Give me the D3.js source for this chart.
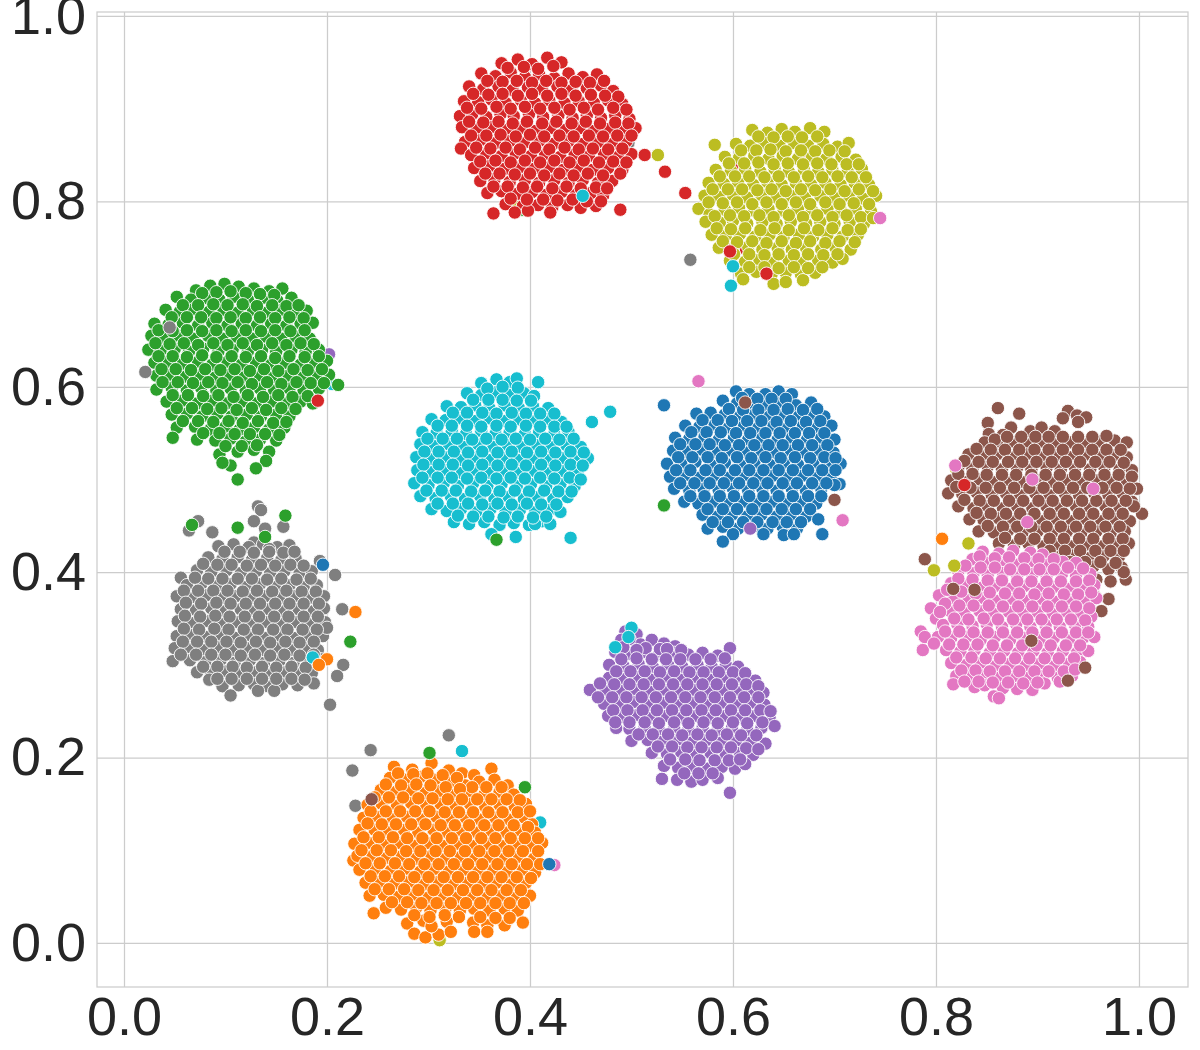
<!DOCTYPE html>
<html>
<head>
<meta charset="utf-8">
<script src="https://cdn.jsdelivr.net/npm/d3@7/dist/d3.min.js"></script>
<style>
  html, body { margin: 0; padding: 0; background: #fff; }
  text { font-family: "Liberation Sans", Arial, sans-serif; }
</style>
</head>
<body>
<svg id="chart" width="1200" height="1050"></svg>
<script>
// values, [x, y] in data units
const tickValues = [0, 0.2, 0.4, 0.6, 0.8, 1.0];

const red = [
[.372,.949],[.388,.953],[.402,.948],[.417,.955],[.431,.950],[.352,.938],[.366,.935],[.381,.939],[.395,.934],[.409,.937],[.424,.933],[.438,.938],[.452,.934],[.466,.937],
[.340,.924],[.354,.921],[.369,.924],[.383,.920],[.398,.923],[.412,.921],[.427,.924],[.441,.920],[.456,.922],[.470,.925],[.482,.919],
[.335,.908],[.349,.907],[.362,.910],[.376,.906],[.391,.909],[.405,.906],[.419,.909],[.434,.906],[.448,.908],[.463,.906],[.477,.909],[.491,.905],
[.331,.892],[.343,.894],[.357,.891],[.371,.894],[.384,.892],[.399,.894],[.413,.891],[.428,.893],[.442,.890],[.456,.893],[.470,.890],[.484,.893],[.498,.889],
[.333,.880],[.348,.878],[.362,.880],[.377,.877],[.391,.879],[.406,.876],[.420,.879],[.435,.877],[.449,.879],[.463,.876],[.477,.878],[.491,.876],[.504,.879],
[.336,.864],[.351,.866],[.366,.863],[.380,.865],[.394,.863],[.409,.865],[.423,.862],[.438,.865],[.452,.862],[.467,.864],[.481,.862],[.495,.865],[.332,.857],
[.342,.850],[.357,.851],[.372,.849],[.386,.852],[.401,.849],[.415,.851],[.430,.848],[.444,.851],[.458,.849],[.473,.851],[.487,.848],[.500,.851],
[.345,.836],[.360,.838],[.375,.835],[.390,.837],[.404,.835],[.419,.837],[.433,.834],[.447,.837],[.462,.834],[.477,.836],[.491,.834],
[.351,.822],[.365,.824],[.380,.821],[.395,.823],[.409,.820],[.424,.823],[.438,.820],[.452,.823],[.467,.820],[.481,.822],[.489,.830],
[.358,.809],[.372,.811],[.387,.808],[.402,.810],[.416,.807],[.431,.810],[.445,.807],[.460,.809],[.472,.806],
[.376,.797],[.393,.795],[.408,.796],[.422,.794],[.437,.796],[.450,.793],[.465,.795],[.398,.790],[.420,.788],[.364,.787],[.385,.788],[.489,.791]
];
const redFill = [
[.378,.944],[.394,.945],[.408,.943],[.423,.946],[.358,.930],[.373,.929],[.387,.930],[.402,.928],[.416,.930],[.431,.928],[.445,.929],[.459,.928],[.473,.930],
[.344,.916],[.359,.915],[.373,.916],[.388,.914],[.402,.916],[.417,.914],[.431,.916],[.445,.914],[.460,.915],[.474,.914],[.487,.913],
[.338,.901],[.352,.900],[.367,.902],[.381,.900],[.395,.902],[.410,.900],[.424,.901],[.439,.899],[.453,.901],[.467,.899],[.482,.901],[.495,.899],
[.340,.886],[.354,.885],[.369,.886],[.383,.884],[.397,.886],[.412,.884],[.426,.886],[.441,.884],[.455,.886],[.469,.884],[.484,.885],[.497,.884],
[.342,.871],[.357,.871],[.371,.872],[.386,.870],[.400,.872],[.414,.870],[.429,.871],[.443,.870],[.458,.871],[.472,.870],[.486,.871],[.500,.871],
[.347,.858],[.361,.857],[.376,.858],[.390,.856],[.405,.858],[.419,.856],[.434,.858],[.448,.856],[.462,.857],[.477,.856],[.491,.857],
[.351,.843],[.366,.844],[.381,.842],[.395,.844],[.410,.842],[.424,.844],[.439,.842],[.453,.844],[.468,.842],[.482,.843],[.495,.842],
[.356,.830],[.370,.830],[.385,.829],[.400,.830],[.414,.828],[.429,.830],[.443,.828],[.457,.830],[.472,.828],
[.364,.816],[.378,.816],[.393,.815],[.407,.816],[.422,.814],[.436,.816],[.450,.814],[.465,.815],[.476,.814],
[.381,.803],[.397,.802],[.413,.802],[.427,.801],[.442,.802],[.456,.800],[.470,.800]
];

const olive = [
[.619,.877],[.634,.874],[.648,.878],[.661,.875],[.676,.879],[.690,.875],[.603,.862],[.617,.860],[.631,.863],[.646,.860],[.660,.863],[.674,.860],[.689,.862],[.703,.859],[.714,.863],
[.592,.848],[.606,.847],[.621,.849],[.635,.846],[.649,.849],[.664,.846],[.678,.848],[.692,.846],[.707,.848],[.721,.845],
[.583,.834],[.598,.833],[.612,.835],[.627,.832],[.641,.835],[.655,.832],[.670,.834],[.684,.832],[.698,.834],[.713,.832],[.727,.835],
[.576,.820],[.591,.819],[.605,.821],[.620,.818],[.634,.821],[.648,.818],[.662,.820],[.677,.818],[.691,.820],[.706,.818],[.720,.820],[.734,.818],
[.572,.806],[.586,.805],[.600,.807],[.614,.804],[.628,.807],[.643,.804],[.657,.806],[.671,.804],[.686,.806],[.700,.804],[.714,.806],[.728,.803],[.741,.806],
[.566,.792],[.577,.786],[.592,.791],[.606,.793],[.621,.790],[.635,.792],[.650,.790],[.664,.792],[.678,.790],[.693,.792],[.707,.789],[.721,.792],[.736,.789],
[.573,.778],[.587,.777],[.600,.779],[.614,.776],[.629,.778],[.643,.776],[.657,.778],[.672,.776],[.686,.778],[.700,.776],[.715,.778],[.729,.776],
[.579,.764],[.593,.763],[.607,.765],[.622,.762],[.636,.764],[.650,.762],[.665,.764],[.679,.762],[.693,.764],[.708,.762],[.723,.764],
[.586,.750],[.600,.749],[.615,.751],[.629,.748],[.644,.750],[.658,.748],[.672,.750],[.687,.748],[.701,.750],[.716,.748],
[.597,.736],[.612,.735],[.626,.737],[.640,.734],[.655,.736],[.669,.734],[.684,.736],[.698,.734],[.708,.738],
[.608,.722],[.623,.724],[.638,.721],[.652,.723],[.667,.721],[.681,.723],[.640,.711],[.652,.713],[.669,.715],[.610,.716]
];
const oliveFill = [
[.625,.870],[.640,.869],[.654,.870],[.668,.869],[.683,.870],[.608,.855],[.623,.855],[.637,.856],[.652,.854],[.667,.855],[.681,.854],[.695,.855],[.710,.854],
[.596,.841],[.611,.841],[.625,.842],[.640,.840],[.654,.841],[.669,.840],[.683,.841],[.697,.840],[.712,.840],[.724,.840],
[.587,.827],[.602,.827],[.616,.827],[.631,.826],[.645,.827],[.660,.826],[.674,.827],[.688,.826],[.703,.827],[.717,.826],[.731,.826],
[.580,.813],[.595,.813],[.609,.813],[.624,.812],[.638,.813],[.652,.811],[.667,.813],[.681,.812],[.696,.813],[.710,.811],[.724,.813],[.738,.811],
[.576,.799],[.590,.798],[.604,.799],[.619,.797],[.633,.799],[.648,.797],[.662,.799],[.676,.797],[.691,.799],[.705,.797],[.719,.798],[.734,.797],
[.582,.784],[.597,.785],[.611,.784],[.626,.785],[.640,.783],[.655,.785],[.669,.783],[.683,.785],[.698,.783],[.712,.785],[.726,.783],[.738,.782],
[.584,.771],[.598,.770],[.612,.771],[.627,.769],[.641,.771],[.655,.769],[.670,.771],[.684,.769],[.698,.771],[.713,.769],[.726,.770],
[.590,.757],[.604,.756],[.619,.757],[.633,.755],[.648,.757],[.662,.755],[.676,.757],[.691,.755],[.705,.757],[.720,.756],
[.601,.743],[.616,.743],[.631,.742],[.645,.743],[.660,.742],[.674,.743],[.689,.742],[.703,.743],
[.616,.729],[.631,.729],[.645,.728],[.660,.729],[.674,.728],[.688,.729]
];

const green = [
[.071,.704],[.085,.709],[.099,.711],[.113,.708],[.128,.706],[.143,.703],[.156,.706],
[.052,.697],[.066,.694],[.080,.696],[.094,.694],[.108,.697],[.122,.694],[.137,.696],[.151,.693],[.165,.696],
[.041,.683],[.055,.681],[.069,.684],[.084,.681],[.098,.683],[.112,.680],[.127,.683],[.141,.680],[.155,.683],[.170,.680],[.180,.682],
[.030,.668],[.044,.667],[.058,.669],[.073,.666],[.087,.669],[.102,.666],[.116,.668],[.131,.666],[.145,.668],[.160,.666],[.174,.668],[.186,.669],
[.027,.655],[.040,.653],[.054,.655],[.068,.652],[.083,.655],[.097,.652],[.111,.654],[.126,.652],[.140,.654],[.155,.652],[.169,.654],[.183,.652],
[.024,.640],[.036,.639],[.050,.641],[.064,.638],[.078,.641],[.093,.638],[.107,.640],[.122,.638],[.136,.640],[.150,.638],[.165,.640],[.179,.638],[.192,.640],
[.030,.626],[.044,.627],[.058,.625],[.073,.627],[.087,.624],[.102,.627],[.116,.624],[.130,.626],[.145,.624],[.159,.626],[.174,.624],[.188,.626],[.200,.628],
[.032,.612],[.046,.613],[.061,.611],[.075,.613],[.090,.610],[.104,.613],[.118,.610],[.133,.612],[.147,.610],[.162,.612],[.176,.610],[.190,.612],[.202,.613],
[.032,.597],[.047,.599],[.062,.596],[.076,.599],[.091,.596],[.105,.598],[.120,.596],[.134,.598],[.148,.596],[.163,.598],[.177,.596],[.192,.598],[.211,.602],
[.042,.584],[.057,.585],[.072,.582],[.087,.585],[.101,.582],[.116,.584],[.130,.582],[.145,.584],[.159,.582],[.174,.584],[.186,.582],
[.047,.570],[.062,.571],[.077,.568],[.092,.571],[.106,.568],[.121,.570],[.135,.568],[.150,.570],[.163,.568],
[.052,.556],[.070,.557],[.085,.554],[.100,.557],[.114,.554],[.128,.556],[.143,.554],[.158,.556],
[.048,.545],[.072,.543],[.090,.542],[.105,.544],[.120,.541],[.134,.543],[.150,.542],[.094,.527],[.112,.530],[.128,.532],[.143,.530],[.105,.515],[.140,.520],[.130,.512],[.097,.518],[.112,.500]
];
const greenFill = [
[.077,.701],[.091,.702],[.105,.703],[.120,.701],[.134,.700],[.148,.699],[.058,.688],[.073,.688],[.088,.689],[.102,.688],[.117,.689],[.131,.687],[.146,.688],[.160,.687],[.172,.688],
[.047,.675],[.062,.675],[.076,.675],[.091,.674],[.105,.675],[.120,.674],[.134,.675],[.149,.674],[.163,.675],[.177,.674],
[.034,.661],[.048,.660],[.062,.661],[.077,.660],[.091,.661],[.106,.660],[.120,.661],[.135,.660],[.149,.661],[.164,.660],[.178,.661],
[.031,.647],[.045,.646],[.059,.647],[.073,.645],[.088,.647],[.102,.645],[.117,.647],[.131,.645],[.146,.647],[.160,.645],[.174,.647],[.187,.646],
[.034,.633],[.048,.633],[.062,.632],[.077,.634],[.091,.632],[.106,.633],[.120,.632],[.135,.633],[.149,.631],[.163,.633],[.178,.632],[.192,.633],
[.037,.619],[.051,.619],[.066,.618],[.080,.619],[.095,.618],[.109,.619],[.124,.617],[.138,.619],[.152,.617],[.167,.619],[.181,.618],[.195,.619],
[.038,.605],[.053,.605],[.068,.604],[.083,.605],[.097,.604],[.112,.605],[.126,.603],[.141,.605],[.155,.603],[.170,.605],[.184,.604],[.197,.604],
[.048,.591],[.063,.591],[.078,.590],[.093,.591],[.108,.589],[.122,.591],[.137,.589],[.152,.591],[.166,.589],[.181,.590],
[.052,.577],[.067,.577],[.082,.576],[.096,.577],[.111,.575],[.126,.577],[.140,.575],[.155,.577],[.169,.576],
[.058,.563],[.073,.563],[.088,.562],[.103,.563],[.117,.561],[.132,.563],[.147,.561],[.160,.562],
[.078,.550],[.094,.550],[.109,.549],[.124,.549],[.139,.549],[.153,.548],[.100,.536],[.116,.536],[.131,.537]
];

const cyan = [
[.352,.604],[.367,.608],[.380,.605],[.387,.609],[.338,.593],[.352,.591],[.366,.594],[.380,.591],[.394,.593],[.404,.590],[.408,.605],
[.318,.579],[.332,.578],[.346,.580],[.360,.577],[.375,.580],[.389,.577],[.403,.579],[.418,.577],
[.303,.565],[.317,.564],[.331,.566],[.346,.563],[.360,.566],[.375,.563],[.389,.565],[.403,.563],[.418,.565],[.431,.562],
[.294,.551],[.308,.550],[.323,.552],[.337,.549],[.352,.552],[.366,.549],[.380,.551],[.395,.549],[.409,.551],[.424,.549],[.438,.551],[.461,.562],
[.292,.538],[.306,.536],[.320,.538],[.335,.535],[.349,.538],[.364,.535],[.378,.537],[.392,.535],[.407,.537],[.421,.535],[.436,.537],[.450,.535],
[.288,.524],[.302,.522],[.316,.524],[.331,.521],[.345,.524],[.359,.521],[.374,.523],[.388,.521],[.403,.523],[.417,.521],[.432,.523],[.446,.521],[.457,.523],
[.289,.510],[.304,.508],[.318,.510],[.333,.507],[.347,.510],[.361,.507],[.376,.509],[.390,.507],[.405,.509],[.419,.507],[.433,.509],[.447,.507],
[.286,.496],[.300,.494],[.315,.496],[.329,.493],[.344,.496],[.358,.493],[.372,.495],[.387,.493],[.401,.495],[.416,.493],[.430,.495],[.444,.493],
[.292,.482],[.307,.480],[.322,.482],[.336,.479],[.351,.482],[.365,.479],[.379,.481],[.394,.479],[.408,.481],[.423,.479],[.437,.481],
[.303,.468],[.318,.466],[.332,.468],[.347,.465],[.361,.468],[.376,.465],[.390,.467],[.405,.465],[.419,.467],[.430,.465],
[.325,.454],[.340,.452],[.355,.454],[.370,.451],[.384,.453],[.399,.451],[.412,.455],[.362,.441],[.386,.438],[.405,.452],[.420,.452]
];
const cyanFill = [
[.358,.598],[.373,.600],[.388,.599],[.344,.586],[.359,.586],[.373,.586],[.387,.585],[.401,.585],[.324,.572],[.338,.572],[.353,.572],[.367,.571],[.382,.572],[.396,.571],[.410,.571],[.424,.571],
[.309,.558],[.323,.558],[.338,.558],[.352,.557],[.367,.558],[.381,.557],[.396,.558],[.410,.557],[.424,.557],[.436,.557],
[.299,.544],[.314,.544],[.328,.544],[.343,.543],[.357,.544],[.372,.543],[.386,.544],[.400,.543],[.415,.544],[.429,.543],[.443,.544],
[.296,.530],[.310,.530],[.325,.530],[.339,.529],[.353,.530],[.368,.529],[.382,.530],[.397,.529],[.411,.530],[.425,.529],[.440,.530],[.453,.529],
[.295,.516],[.310,.516],[.324,.516],[.339,.515],[.353,.516],[.368,.515],[.382,.516],[.396,.515],[.411,.516],[.425,.515],[.440,.516],[.452,.515],
[.294,.502],[.309,.502],[.323,.502],[.338,.501],[.352,.502],[.367,.501],[.381,.502],[.395,.501],[.410,.502],[.424,.501],[.439,.502],[.450,.500],
[.298,.488],[.313,.488],[.327,.488],[.342,.487],[.356,.488],[.370,.487],[.385,.488],[.399,.487],[.414,.488],[.428,.487],[.441,.487],
[.309,.474],[.324,.474],[.339,.474],[.353,.473],[.368,.474],[.382,.473],[.397,.474],[.411,.473],[.426,.473],
[.329,.461],[.344,.460],[.359,.460],[.374,.459],[.388,.460],[.403,.459],[.416,.460]
];

const blue = [
[.603,.595],[.616,.592],[.632,.592],[.645,.595],[.658,.592],[.590,.585],[.604,.582],[.619,.581],[.633,.580],[.648,.583],[.662,.580],[.677,.583],
[.564,.571],[.578,.572],[.592,.570],[.607,.568],[.621,.570],[.636,.568],[.650,.570],[.665,.568],[.679,.570],[.690,.568],
[.553,.558],[.567,.557],[.582,.559],[.596,.556],[.611,.558],[.625,.556],[.640,.558],[.654,.556],[.669,.558],[.683,.556],[.697,.558],
[.543,.545],[.557,.544],[.572,.546],[.586,.543],[.601,.545],[.615,.543],[.629,.545],[.644,.543],[.658,.545],[.673,.543],[.687,.545],[.700,.543],
[.541,.531],[.556,.530],[.570,.532],[.585,.529],[.599,.531],[.613,.529],[.628,.531],[.642,.529],[.657,.531],[.671,.529],[.685,.531],[.699,.529],
[.535,.517],[.549,.517],[.563,.519],[.578,.516],[.592,.518],[.607,.516],[.621,.518],[.636,.516],[.650,.518],[.664,.516],[.679,.518],[.693,.516],[.706,.517],
[.538,.503],[.552,.504],[.567,.502],[.581,.504],[.596,.502],[.610,.504],[.624,.502],[.639,.504],[.653,.502],[.668,.504],[.682,.502],[.697,.504],[.705,.495],
[.542,.490],[.557,.488],[.571,.490],[.586,.488],[.600,.490],[.615,.488],[.629,.490],[.643,.488],[.658,.490],[.672,.488],[.687,.490],[.700,.494],
[.552,.476],[.566,.474],[.581,.476],[.595,.474],[.610,.476],[.624,.474],[.639,.476],[.653,.474],[.667,.476],[.682,.474],
[.570,.462],[.585,.460],[.599,.462],[.614,.460],[.628,.462],[.643,.460],[.657,.462],[.672,.460],[.684,.457],
[.575,.447],[.590,.449],[.605,.447],[.620,.449],[.634,.447],[.649,.449],[.663,.447],[.600,.441],[.590,.433],[.630,.441],[.650,.440],[.660,.441],[.688,.441],[.532,.580]
];
const blueFill = [
[.609,.588],[.624,.587],[.638,.587],[.652,.587],[.596,.576],[.610,.575],[.625,.575],[.640,.575],[.654,.576],[.669,.575],[.683,.576],
[.570,.564],[.585,.564],[.599,.563],[.614,.563],[.628,.563],[.643,.562],[.657,.563],[.672,.562],[.686,.563],
[.559,.551],[.574,.551],[.588,.551],[.603,.550],[.617,.550],[.632,.550],[.646,.550],[.661,.550],[.675,.550],[.690,.550],
[.548,.538],[.563,.538],[.577,.538],[.592,.537],[.606,.537],[.621,.537],[.635,.537],[.649,.537],[.664,.537],[.678,.537],[.693,.537],
[.546,.524],[.560,.524],[.575,.524],[.589,.523],[.604,.524],[.618,.523],[.632,.524],[.647,.523],[.661,.524],[.676,.523],[.690,.524],[.701,.523],
[.544,.510],[.558,.510],[.573,.510],[.587,.510],[.602,.510],[.616,.510],[.630,.510],[.645,.510],[.659,.510],[.674,.510],[.688,.510],[.701,.510],
[.548,.496],[.562,.496],[.577,.496],[.591,.496],[.606,.496],[.620,.496],[.634,.496],[.649,.496],[.663,.496],[.678,.496],[.692,.496],
[.558,.482],[.572,.482],[.587,.482],[.601,.482],[.616,.482],[.630,.482],[.645,.482],[.659,.482],[.674,.482],[.687,.482],
[.575,.468],[.590,.468],[.604,.468],[.619,.468],[.633,.468],[.648,.468],[.662,.468],[.676,.468],
[.580,.454],[.595,.454],[.610,.454],[.624,.454],[.639,.454],[.653,.454],[.667,.454]
];

const brown = [
[.861,.577],[.882,.571],[.930,.574],[.939,.569],[.948,.567],[.851,.561],[.874,.556],[.925,.566],[.940,.562],[.893,.552],[.904,.556],[.917,.552],[.852,.549],[.866,.548],
[.848,.540],[.861,.537],[.875,.541],[.890,.538],[.904,.541],[.918,.538],[.933,.540],[.947,.538],[.961,.541],[.976,.542],[.988,.540],
[.832,.527],[.846,.525],[.860,.527],[.875,.524],[.889,.527],[.903,.524],[.918,.526],[.932,.524],[.946,.526],[.961,.524],[.975,.526],[.988,.524],
[.822,.513],[.836,.512],[.851,.514],[.865,.511],[.880,.513],[.894,.511],[.909,.513],[.923,.511],[.937,.513],[.952,.511],[.966,.513],[.981,.511],[.993,.510],
[.815,.499],[.829,.497],[.843,.500],[.858,.497],[.872,.499],[.887,.497],[.901,.499],[.916,.497],[.930,.499],[.944,.497],[.959,.499],[.973,.497],[.988,.499],[.998,.490],
[.812,.485],[.826,.484],[.840,.486],[.855,.483],[.869,.485],[.883,.483],[.898,.485],[.912,.483],[.927,.485],[.941,.483],[.956,.485],[.970,.483],[.984,.485],[.993,.476],[1.003,.463],
[.822,.471],[.837,.469],[.851,.471],[.866,.469],[.880,.471],[.895,.469],[.909,.471],[.923,.469],[.938,.471],[.952,.469],[.967,.471],[.981,.469],[.995,.471],
[.833,.457],[.847,.456],[.862,.458],[.876,.455],[.891,.457],[.905,.455],[.919,.457],[.934,.455],[.948,.457],[.963,.455],[.977,.457],[.991,.455],
[.842,.444],[.857,.443],[.871,.445],[.885,.442],[.900,.444],[.914,.442],[.929,.444],[.943,.442],[.958,.444],[.972,.442],[.986,.444],
[.862,.431],[.877,.429],[.891,.431],[.906,.428],[.920,.430],[.935,.428],[.949,.430],[.964,.428],[.978,.430],[.990,.431],
[.905,.417],[.920,.416],[.935,.418],[.950,.415],[.965,.417],[.980,.416],[.924,.405],[.940,.404],[.955,.406],[.970,.403],[.983,.405],
[.958,.392],[.972,.390],[.987,.392],[.956,.375],[.970,.371],[.951,.361],[.963,.358],[.941,.345],[.985,.400]
];
const brownFill = [
[.858,.543],[.870,.546],[.884,.546],[.898,.546],[.911,.546],[.925,.546],[.940,.546],[.954,.546],[.968,.547],
[.840,.533],[.854,.532],[.868,.532],[.882,.532],[.897,.532],[.911,.532],[.925,.532],[.940,.532],[.954,.532],[.968,.532],[.982,.532],
[.828,.520],[.842,.519],[.856,.519],[.871,.519],[.885,.519],[.899,.519],[.914,.519],[.928,.519],[.942,.519],[.957,.519],[.971,.519],[.985,.518],
[.822,.506],[.836,.506],[.850,.505],[.865,.505],[.879,.505],[.894,.505],[.908,.505],[.922,.505],[.937,.505],[.951,.505],[.966,.505],[.980,.505],[.993,.503],
[.820,.492],[.834,.491],[.849,.491],[.863,.491],[.877,.491],[.892,.491],[.906,.491],[.921,.491],[.935,.491],[.949,.491],[.964,.491],[.978,.491],[.991,.490],
[.828,.478],[.843,.477],[.857,.477],[.872,.477],[.886,.477],[.901,.477],[.915,.477],[.929,.477],[.944,.477],[.958,.477],[.973,.477],[.987,.477],
[.840,.464],[.854,.463],[.869,.463],[.883,.463],[.897,.463],[.912,.463],[.926,.463],[.941,.463],[.955,.463],[.970,.463],[.984,.463],
[.851,.450],[.866,.449],[.880,.449],[.894,.449],[.909,.449],[.923,.449],[.938,.449],[.952,.449],[.967,.449],[.981,.449],
[.868,.437],[.883,.436],[.897,.436],[.912,.436],[.926,.436],[.941,.436],[.955,.436],[.970,.436],[.984,.436],
[.912,.423],[.927,.423],[.942,.423],[.957,.423],[.972,.423],[.985,.423],[.932,.411],[.947,.411],[.962,.411],[.977,.410]
];

const pink = [
[.846,.422],[.862,.420],[.876,.423],[.893,.421],[.905,.419],[.836,.414],[.851,.410],[.866,.411],[.880,.408],[.895,.410],[.910,.408],[.925,.411],[.938,.410],
[.822,.401],[.837,.399],[.851,.397],[.866,.399],[.880,.396],[.895,.398],[.909,.396],[.924,.398],[.938,.396],[.952,.398],
[.815,.388],[.829,.385],[.844,.383],[.858,.385],[.873,.382],[.887,.385],[.902,.382],[.916,.384],[.931,.382],[.945,.384],[.956,.386],
[.803,.375],[.818,.372],[.832,.370],[.847,.372],[.861,.369],[.876,.371],[.890,.369],[.905,.371],[.919,.368],[.933,.371],[.948,.368],[.958,.372],
[.795,.361],[.800,.350],[.814,.358],[.828,.356],[.843,.358],[.857,.355],[.872,.357],[.886,.355],[.900,.357],[.915,.355],[.929,.357],[.943,.355],[.953,.352],
[.807,.343],[.821,.344],[.836,.342],[.850,.344],[.865,.341],[.879,.344],[.893,.341],[.908,.343],[.922,.341],[.937,.343],[.950,.341],
[.785,.336],[.789,.330],[.802,.330],[.815,.329],[.830,.330],[.844,.327],[.858,.330],[.873,.327],[.887,.329],[.902,.327],[.916,.329],[.931,.327],[.945,.329],[.956,.330],
[.787,.316],[.810,.316],[.824,.314],[.838,.316],[.853,.313],[.867,.315],[.881,.313],[.896,.315],[.910,.313],[.925,.315],[.939,.313],[.950,.315],
[.815,.302],[.830,.300],[.844,.302],[.859,.299],[.873,.301],[.888,.299],[.902,.301],[.917,.299],[.931,.301],[.942,.303],
[.820,.288],[.833,.287],[.848,.289],[.862,.286],[.877,.288],[.891,.286],[.905,.288],[.920,.286],[.934,.288],
[.817,.279],[.838,.276],[.848,.278],[.866,.275],[.880,.274],[.895,.273],[.907,.280],[.922,.282],[.857,.266],[.862,.264]
];
const pinkFill = [
[.843,.417],[.858,.415],[.872,.416],[.887,.415],[.901,.414],[.916,.414],[.930,.405],[.829,.407],[.844,.405],[.858,.405],[.873,.403],[.887,.403],[.902,.403],[.916,.403],[.945,.404],
[.822,.393],[.836,.392],[.851,.391],[.865,.391],[.880,.390],[.894,.390],[.909,.390],[.923,.390],[.938,.390],[.951,.391],
[.811,.381],[.825,.379],[.839,.377],[.853,.378],[.868,.377],[.882,.377],[.897,.376],[.911,.377],[.926,.376],[.940,.376],[.953,.378],
[.809,.366],[.823,.364],[.837,.364],[.852,.364],[.866,.363],[.881,.363],[.895,.363],[.910,.363],[.924,.363],[.938,.363],[.951,.361],
[.804,.357],[.818,.350],[.832,.349],[.847,.350],[.861,.349],[.876,.349],[.890,.349],[.904,.349],[.919,.349],[.933,.349],[.947,.348],
[.809,.336],[.823,.336],[.837,.335],[.851,.335],[.866,.335],[.880,.335],[.895,.335],[.909,.335],[.924,.335],[.938,.335],[.950,.335],
[.798,.323],[.813,.322],[.827,.322],[.841,.322],[.856,.321],[.870,.321],[.885,.321],[.899,.321],[.913,.321],[.928,.321],[.942,.321],
[.820,.308],[.835,.308],[.849,.307],[.863,.307],[.878,.307],[.892,.307],[.907,.307],[.921,.307],[.936,.307],
[.825,.294],[.839,.294],[.853,.293],[.868,.293],[.882,.293],[.897,.293],[.911,.293],[.926,.293],[.937,.295],
[.828,.282],[.842,.282],[.856,.281],[.871,.281],[.886,.280],[.900,.281]
];

const grey = [
[.128,.432],[.093,.428],[.108,.430],[.123,.427],[.137,.430],[.151,.427],[.163,.429],
[.083,.416],[.097,.414],[.112,.416],[.126,.413],[.141,.415],[.155,.413],[.169,.415],
[.072,.402],[.086,.400],[.101,.402],[.115,.399],[.130,.401],[.144,.399],[.158,.401],[.173,.399],[.185,.401],
[.056,.394],[.062,.386],[.076,.387],[.091,.385],[.105,.387],[.120,.384],[.134,.387],[.149,.384],[.163,.386],[.177,.384],[.190,.386],
[.052,.374],[.067,.373],[.081,.375],[.096,.372],[.110,.374],[.125,.372],[.139,.374],[.153,.372],[.168,.374],[.182,.372],[.197,.374],
[.056,.360],[.071,.359],[.086,.361],[.100,.358],[.115,.360],[.129,.358],[.143,.360],[.158,.358],[.172,.360],[.187,.358],[.197,.361],
[.053,.347],[.068,.345],[.083,.347],[.097,.344],[.112,.346],[.126,.344],[.141,.346],[.155,.344],[.170,.346],[.184,.344],[.198,.346],
[.052,.331],[.066,.332],[.081,.330],[.095,.332],[.110,.329],[.124,.332],[.139,.329],[.153,.331],[.167,.329],[.182,.331],[.196,.331],
[.050,.318],[.063,.319],[.078,.316],[.092,.319],[.107,.316],[.121,.318],[.135,.316],[.150,.318],[.164,.316],[.179,.318],[.191,.316],
[.048,.304],[.065,.305],[.080,.303],[.095,.305],[.109,.302],[.124,.305],[.138,.302],[.153,.304],[.167,.302],[.182,.304],[.194,.306],
[.072,.292],[.086,.291],[.101,.293],[.115,.290],[.130,.292],[.144,.290],[.159,.292],[.173,.290],[.185,.291],
[.084,.284],[.097,.277],[.113,.278],[.128,.279],[.142,.277],[.156,.279],[.171,.278],[.105,.267],[.132,.272],[.148,.272],[.187,.280],
[.203,.257],[.216,.300],[.210,.288],[.208,.397],[.193,.412],[.215,.360],[.200,.340],[.132,.471],[.135,.467],[.064,.445],[.073,.455],[.087,.443],[.128,.455],[.139,.447],[.157,.449],[.143,.425]
];
const greyFill = [
[.099,.422],[.114,.422],[.128,.421],[.143,.422],[.157,.421],[.168,.422],[.078,.409],[.092,.408],[.106,.408],[.121,.407],[.135,.408],[.149,.407],[.164,.408],[.177,.407],
[.070,.394],[.083,.393],[.097,.393],[.112,.393],[.126,.393],[.141,.392],[.155,.393],[.170,.392],[.184,.393],
[.059,.380],[.073,.380],[.088,.380],[.102,.380],[.117,.379],[.131,.380],[.146,.379],[.160,.380],[.175,.379],[.189,.379],
[.061,.367],[.076,.366],[.091,.367],[.105,.366],[.120,.366],[.134,.366],[.149,.366],[.163,.366],[.177,.366],[.192,.366],
[.060,.353],[.075,.352],[.090,.353],[.104,.352],[.119,.352],[.133,.352],[.148,.352],[.162,.352],[.177,.352],[.191,.352],
[.059,.339],[.074,.338],[.089,.339],[.103,.338],[.118,.338],[.132,.338],[.147,.338],[.161,.338],[.176,.338],[.190,.338],
[.058,.325],[.072,.325],[.086,.325],[.101,.325],[.115,.324],[.130,.325],[.144,.324],[.159,.325],[.173,.324],[.187,.325],
[.056,.311],[.071,.311],[.086,.311],[.100,.311],[.115,.310],[.129,.311],[.144,.310],[.158,.311],[.173,.310],[.187,.311],
[.078,.298],[.092,.298],[.107,.298],[.121,.297],[.136,.298],[.150,.297],[.165,.298],[.179,.297],
[.092,.285],[.106,.285],[.121,.285],[.136,.285],[.150,.285],[.165,.285],[.178,.284]
];

const purple = [
[.494,.336],[.505,.333],[.490,.327],[.509,.322],[.520,.327],[.532,.323],[.543,.320],[.484,.314],[.498,.312],[.513,.314],[.527,.311],[.542,.313],[.556,.311],[.570,.313],[.597,.318],[.585,.310],
[.478,.300],[.492,.299],[.507,.301],[.521,.298],[.536,.300],[.550,.298],[.565,.300],[.579,.298],[.593,.300],[.605,.298],
[.478,.286],[.490,.285],[.505,.287],[.519,.284],[.534,.286],[.548,.284],[.563,.286],[.577,.284],[.592,.286],[.606,.284],[.622,.283],
[.459,.273],[.475,.272],[.489,.272],[.504,.273],[.518,.271],[.533,.273],[.547,.271],[.561,.273],[.576,.271],[.590,.273],[.605,.271],[.619,.273],[.630,.270],
[.473,.258],[.487,.258],[.502,.260],[.516,.257],[.531,.259],[.545,.257],[.560,.259],[.574,.257],[.588,.259],[.603,.257],[.617,.259],[.631,.257],
[.477,.245],[.491,.244],[.506,.246],[.520,.243],[.535,.245],[.549,.243],[.564,.245],[.578,.243],[.593,.245],[.607,.243],[.622,.245],[.636,.243],
[.485,.232],[.498,.231],[.513,.233],[.527,.230],[.542,.232],[.556,.230],[.570,.232],[.585,.230],[.599,.232],[.614,.230],[.628,.232],[.641,.234],
[.500,.218],[.516,.219],[.530,.217],[.545,.219],[.559,.216],[.574,.219],[.588,.216],[.603,.218],[.617,.216],[.632,.215],
[.520,.205],[.535,.204],[.549,.206],[.564,.203],[.578,.205],[.593,.203],[.607,.205],[.620,.203],
[.532,.191],[.546,.189],[.560,.191],[.575,.188],[.589,.190],[.602,.188],[.612,.193],
[.530,.177],[.545,.176],[.559,.174],[.570,.176],[.585,.178],[.597,.162]
];
const purpleFill = [
[.498,.328],[.514,.318],[.528,.317],[.492,.319],[.505,.316],[.535,.317],[.549,.316],[.563,.306],[.548,.306],[.534,.306],[.520,.306],[.505,.307],[.490,.306],[.578,.306],[.592,.307],
[.485,.293],[.499,.293],[.513,.293],[.528,.292],[.542,.293],[.557,.292],[.571,.292],[.586,.292],[.600,.292],[.612,.291],
[.469,.280],[.483,.279],[.498,.279],[.512,.279],[.527,.279],[.541,.279],[.555,.279],[.570,.279],[.584,.279],[.599,.279],[.613,.279],[.625,.277],
[.467,.265],[.481,.265],[.495,.265],[.510,.265],[.524,.265],[.539,.265],[.553,.265],[.568,.265],[.582,.265],[.597,.265],[.611,.265],[.625,.265],
[.482,.251],[.496,.251],[.511,.251],[.525,.251],[.540,.251],[.554,.251],[.569,.251],[.583,.251],[.598,.251],[.612,.251],[.627,.251],[.637,.250],
[.484,.238],[.498,.238],[.513,.238],[.527,.237],[.542,.238],[.556,.237],[.571,.238],[.585,.237],[.600,.238],[.614,.237],[.629,.238],
[.507,.225],[.521,.225],[.536,.225],[.550,.224],[.565,.225],[.579,.224],[.594,.225],[.608,.224],[.623,.224],
[.526,.212],[.540,.212],[.555,.211],[.569,.211],[.584,.211],[.598,.211],[.613,.210],[.625,.209],
[.538,.198],[.553,.198],[.567,.197],[.582,.197],[.596,.197],[.607,.198],[.552,.183],[.566,.183],[.580,.183]
];

const orange = [
[.266,.190],[.284,.187],[.303,.194],[.320,.186],[.333,.183],[.362,.188],[.345,.181],[.262,.178],[.277,.176],[.292,.179],[.306,.176],[.321,.173],[.336,.170],[.350,.174],[.365,.176],[.378,.170],
[.253,.165],[.268,.163],[.283,.165],[.297,.162],[.312,.164],[.326,.160],[.340,.163],[.355,.160],[.370,.163],[.384,.160],
[.240,.149],[.254,.150],[.269,.148],[.283,.151],[.298,.148],[.312,.150],[.327,.147],[.341,.150],[.356,.147],[.370,.149],[.385,.147],[.396,.150],
[.236,.135],[.250,.136],[.265,.134],[.279,.136],[.294,.133],[.308,.136],[.323,.133],[.337,.135],[.351,.133],[.366,.135],[.380,.133],[.395,.135],[.402,.128],
[.232,.122],[.247,.122],[.261,.120],[.276,.122],[.290,.119],[.305,.122],[.319,.119],[.333,.121],[.348,.119],[.362,.121],[.377,.119],[.391,.121],[.405,.119],
[.227,.107],[.241,.108],[.256,.106],[.270,.108],[.285,.105],[.299,.108],[.313,.105],[.328,.107],[.342,.105],[.357,.107],[.371,.105],[.386,.107],[.400,.105],[.412,.108],
[.226,.089],[.230,.094],[.245,.094],[.259,.092],[.274,.094],[.288,.091],[.303,.094],[.317,.091],[.332,.093],[.346,.091],[.360,.093],[.375,.091],[.389,.093],[.404,.091],
[.232,.079],[.248,.080],[.263,.078],[.277,.080],[.292,.077],[.306,.080],[.320,.077],[.335,.079],[.349,.077],[.364,.079],[.378,.077],[.393,.079],[.405,.076],
[.238,.065],[.252,.066],[.266,.064],[.281,.066],[.295,.063],[.310,.066],[.324,.063],[.339,.065],[.353,.063],[.367,.065],[.382,.063],[.396,.065],
[.242,.051],[.256,.052],[.271,.050],[.285,.052],[.300,.049],[.314,.052],[.329,.049],[.343,.051],[.358,.049],[.372,.051],[.386,.049],[.400,.051],
[.246,.032],[.258,.038],[.273,.036],[.288,.038],[.302,.035],[.317,.038],[.331,.035],[.345,.037],[.360,.035],[.375,.037],[.388,.035],[.393,.022],
[.279,.021],[.295,.024],[.318,.023],[.344,.022],[.358,.019],[.375,.019],[.286,.010],[.297,.006],[.310,.009],[.322,.012],[.345,.012],[.358,.012],[.303,.018]
];
const orangeFill = [
[.270,.183],[.285,.182],[.299,.183],[.314,.181],[.328,.178],[.343,.168],[.357,.168],[.372,.168],[.258,.171],[.273,.170],[.288,.171],[.302,.170],[.317,.168],[.331,.166],
[.247,.157],[.261,.157],[.275,.157],[.290,.156],[.304,.156],[.319,.155],[.333,.155],[.348,.155],[.362,.155],[.377,.155],[.390,.154],
[.243,.142],[.258,.142],[.272,.142],[.287,.142],[.301,.142],[.316,.141],[.330,.141],[.344,.141],[.359,.141],[.373,.141],[.388,.141],[.400,.142],
[.240,.129],[.254,.128],[.268,.128],[.283,.128],[.297,.128],[.312,.127],[.326,.127],[.340,.127],[.355,.127],[.369,.127],[.384,.127],[.398,.125],
[.236,.114],[.251,.114],[.265,.114],[.279,.113],[.294,.113],[.308,.113],[.323,.113],[.337,.113],[.352,.113],[.366,.113],[.381,.113],[.395,.113],[.408,.113],
[.234,.100],[.249,.100],[.263,.100],[.278,.099],[.292,.099],[.307,.099],[.321,.099],[.336,.099],[.350,.099],[.365,.099],[.379,.099],[.393,.099],[.408,.099],
[.238,.086],[.252,.086],[.267,.086],[.281,.085],[.296,.085],[.310,.085],[.325,.085],[.339,.085],[.353,.085],[.368,.085],[.382,.085],[.397,.085],[.410,.085],
[.243,.072],[.257,.072],[.271,.072],[.286,.071],[.300,.071],[.315,.071],[.329,.071],[.344,.071],[.358,.071],[.372,.071],[.387,.071],[.401,.070],
[.247,.058],[.261,.058],[.276,.058],[.290,.057],[.305,.057],[.319,.057],[.334,.057],[.348,.057],[.362,.057],[.377,.057],[.391,.057],
[.264,.044],[.279,.044],[.293,.043],[.308,.043],[.322,.043],[.337,.043],[.351,.043],[.366,.043],[.380,.043],[.394,.043],
[.286,.030],[.301,.028],[.316,.030],[.330,.028],[.351,.028],[.366,.027],[.380,.027]
];

// strays partly covered by the big groups
const behindGrey = [[.497,.863],[.228,.148],[.265,.178],[.275,.172]];
const behindGreen = [[.392,.791],[.395,.168]];
const behindOlive = [[.388,.797],[.311,.003],[.820,.511]];
const behindCyan = [[.205,.603],[.410,.130]];
const behindPurple = [[.202,.635],[.300,.165]];
const behindPink = [[.424,.084]];
const behindRed = [[.600,.838],[.670,.843],[.610,.750]];

// strays sitting on top of the big groups
const strayRed = [[.513,.850],[.533,.832],[.553,.809],[.597,.746],[.633,.722],[.191,.585],[.828,.494]];
const strayOlive = [[.526,.850],[.798,.402],[.818,.407],[.832,.431]];
const strayGreen = [[.367,.435],[.532,.472],[.301,.205],[.159,.461],[.067,.451],[.112,.448],[.139,.438],[.223,.325]];
const strayCyan = [[.452,.806],[.598,.709],[.479,.573],[.440,.437],[.408,.605],[.333,.207],[.186,.308],[.500,.340],[.484,.319],[.497,.330],[.600,.730]];
const strayBlue = [[.196,.408],[.419,.085]];
const strayPink = [[.566,.606],[.708,.456],[.745,.782],[.895,.500],[.955,.490],[.890,.454],[.819,.515]];
const strayBrown = [[.612,.583],[.700,.478],[.947,.297],[.930,.283],[.894,.326],[.817,.382],[.838,.381],[.789,.414],[.244,.155]];
const strayOrange = [[.806,.436],[.228,.357],[.200,.306],[.192,.300]];
const strayGrey = [[.558,.737],[.320,.224],[.243,.208],[.225,.186],[.021,.616],[.045,.664]];
const strayPurple = [[.617,.447]];
const strayExtraOlive = [[.582,.861]];

const colors = {
  blue: '#1f77b4', orange: '#ff7f0e', green: '#2ca02c', red: '#d62728', purple: '#9467bd',
  brown: '#8c564b', pink: '#e377c2', grey: '#7f7f7f', olive: '#bcbd22', cyan: '#17becf'
};

const drawOrder = [
  [behindGrey, colors.grey], [behindGreen, colors.green], [behindOlive, colors.olive],
  [behindCyan, colors.cyan], [behindPurple, colors.purple], [behindPink, colors.pink],
  [behindRed, colors.red],
  [green, colors.green], [greenFill, colors.green], [grey, colors.grey], [greyFill, colors.grey],
  [orange, colors.orange], [orangeFill, colors.orange], [purple, colors.purple], [purpleFill, colors.purple],
  [cyan, colors.cyan], [cyanFill, colors.cyan], [blue, colors.blue], [blueFill, colors.blue],
  [olive, colors.olive], [oliveFill, colors.olive], [red, colors.red], [redFill, colors.red],
  [brown, colors.brown], [brownFill, colors.brown], [pink, colors.pink], [pinkFill, colors.pink],
  [strayRed, colors.red], [strayOlive, colors.olive], [strayGreen, colors.green], [strayCyan, colors.cyan],
  [strayBlue, colors.blue], [strayPink, colors.pink], [strayBrown, colors.brown], [strayOrange, colors.orange],
  [strayGrey, colors.grey], [strayPurple, colors.purple], [strayExtraOlive, colors.olive]
];

const left = 97, right = 1188, top_ = 12, bottom = 987;

const x = d3.scaleLinear().domain([-0.0266, 1.0483]).range([left, right]);
const y = d3.scaleLinear().domain([-0.0475, 1.0043]).range([bottom, top_]);

const svg = d3.select('#chart');

// grid + tick labels
const xAxis = svg.append('g')
  .attr('transform', `translate(0,${bottom})`)
  .call(d3.axisBottom(x).tickValues(tickValues).tickFormat(d3.format('.1f'))
    .tickSizeInner(-(bottom - top_)).tickSizeOuter(0).tickPadding(10));

const yAxis = svg.append('g')
  .attr('transform', `translate(${left},0)`)
  .call(d3.axisLeft(y).tickValues(tickValues).tickFormat(d3.format('.1f'))
    .tickSizeInner(-(right - left)).tickSizeOuter(0).tickPadding(11));

for (const g of [xAxis, yAxis]) {
  g.select('.domain').remove();
  g.selectAll('.tick line').attr('stroke', '#cccccc').attr('stroke-width', 1.25);
  g.selectAll('.tick text').attr('fill', '#262626').style('font-size', '54px')
    .style('font-family', '"Liberation Sans", Arial, sans-serif');
}

// points
for (const [pts, color] of drawOrder) {
  svg.append('g').selectAll('circle')
    .data(pts)
    .join('circle')
    .attr('cx', d => x(d[0]))
    .attr('cy', d => y(d[1]))
    .attr('r', 6.7)
    .attr('fill', color)
    .attr('stroke', '#ffffff')
    .attr('stroke-width', 0.9);
}

// spines
svg.append('rect')
  .attr('x', left).attr('y', top_)
  .attr('width', right - left).attr('height', bottom - top_)
  .attr('fill', 'none').attr('stroke', '#cccccc').attr('stroke-width', 1.25);
</script>
</body>
</html>
